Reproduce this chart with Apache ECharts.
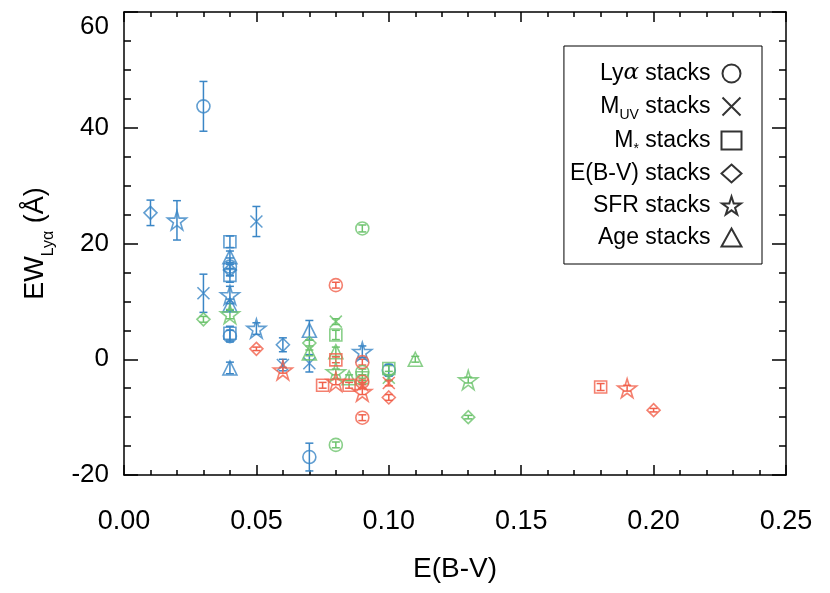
<!DOCTYPE html>
<html>
<head>
<meta charset="utf-8">
<script src="https://cdn.jsdelivr.net/npm/echarts@6/dist/echarts.min.js"></script>
<style>
  html, body { margin: 0; padding: 0; background: #fff; }
  #main { width: 830px; height: 593px; }
</style>
</head>
<body>
<div id="main"></div>
<script>
// [E(B-V), EW, error]
var lyaBlue = [[0.03, 43.7, 4.3], [0.04, 16.0, 1.5], [0.04, 4.0, 1.0], [0.07, -16.9, 2.4], [0.10, -1.9, 1.0]];
var lyaGreen = [[0.09, 22.6, 0.6], [0.08, -14.8, 0.5], [0.09, -2.2, 0.5]];
var lyaRed = [[0.08, 12.8, 0.5], [0.09, -0.5, 0.5], [0.09, -10.1, 0.5], [0.09, -3.9, 0.5]];

var muvBlue = [[0.05, 23.8, 2.6], [0.03, 11.4, 3.3], [0.07, -0.7, 1.5], [0.06, -1.0, 1.0]];
var muvGreen = [[0.08, 6.5, 0.5], [0.10, -3.2, 0.5]];
var muvRed = [[0.09, -4.5, 0.5], [0.10, -4.1, 0.5]];

var mstarBlue = [[0.04, 20.3, 1.0], [0.04, 14.5, 1.2], [0.04, 4.5, 1.2]];
var mstarGreen = [[0.08, 4.2, 0.8], [0.09, -3.2, 0.5], [0.10, -1.6, 0.5]];
var mstarRed = [[0.075, -4.5, 0.5], [0.085, -4.5, 0.5], [0.08, -0.1, 0.5], [0.18, -4.8, 0.6]];

var ebvBlue = [[0.01, 25.3, 2.2], [0.04, 15.4, 1.0], [0.06, 2.5, 1.2]];
var ebvGreen = [[0.03, 6.9, 0.5], [0.07, 2.8, 0.5], [0.13, -10.0, 0.3]];
var ebvRed = [[0.05, 1.8, 0.3], [0.10, -6.6, 0.5], [0.20, -8.8, 0.3]];

var sfrBlue = [[0.02, 24.0, 3.4], [0.04, 11.1, 1.5], [0.05, 5.3, 1.0], [0.09, 1.3, 1.0]];
var sfrGreen = [[0.04, 7.8, 0.8], [0.08, -2.2, 0.5], [0.13, -3.6, 0.5]];
var sfrRed = [[0.06, -1.9, 0.5], [0.08, -3.9, 0.5], [0.09, -5.6, 0.5], [0.19, -5.0, 0.5]];

var ageBlue = [[0.04, 17.7, 1.0], [0.04, 9.4, 1.0], [0.04, -1.5, 1.0], [0.07, 5.0, 1.7]];
var ageGreen = [[0.07, 1.1, 0.5], [0.08, 1.3, 0.8], [0.085, -3.2, 0.5], [0.11, 0.0, 0.5]];

var xTicks = [0, 0.05, 0.10, 0.15, 0.20, 0.25];
var yTicks = [-20, 0, 20, 40, 60];

var BLUE = "#3a86c6";
var GREEN = "#6cc36c";
var RED = "#f1604b";

var STAR = "path://M50,0L61,35L98,35L68,57L79,91L50,70L21,91L32,57L2,35L39,35Z";
var CROSS = "path://M0,0L10,10M10,0L0,10";

var kinds = [
  { key: "lya", symbol: "circle", size: 13 },
  { key: "muv", symbol: CROSS, size: 12 },
  { key: "mstar", symbol: "rect", size: 12 },
  { key: "ebv", symbol: "diamond", size: 13 },
  { key: "sfr", symbol: STAR, size: 19 },
  { key: "age", symbol: "triangle", size: 14 }
];

var groups = [
  { color: BLUE, sets: [lyaBlue, muvBlue, mstarBlue, ebvBlue, sfrBlue, ageBlue] },
  { color: GREEN, sets: [lyaGreen, muvGreen, mstarGreen, ebvGreen, sfrGreen, ageGreen] },
  { color: RED, sets: [lyaRed, muvRed, mstarRed, ebvRed, sfrRed, []] }
];

var series = [];

// error bars + markers, blue first, red on top
groups.forEach(function (g) {
  g.sets.forEach(function (d, i) {
    if (!d.length) return;
    series.push({
      type: "custom",
      silent: true,
      data: d,
      renderItem: function (params, api) {
        var x = api.value(0), y = api.value(1), e = api.value(2);
        var lo = api.coord([x, y - e]);
        var hi = api.coord([x, y + e]);
        var w = 4;
        var st = { stroke: g.color, lineWidth: 1.5 };
        return {
          type: "group",
          children: [
            { type: "line", shape: { x1: lo[0], y1: lo[1], x2: hi[0], y2: hi[1] }, style: st },
            { type: "line", shape: { x1: lo[0] - w, y1: lo[1], x2: lo[0] + w, y2: lo[1] }, style: st },
            { type: "line", shape: { x1: hi[0] - w, y1: hi[1], x2: hi[0] + w, y2: hi[1] }, style: st }
          ]
        };
      }
    });
    series.push({
      type: "scatter",
      silent: true,
      symbol: kinds[i].symbol,
      symbolSize: kinds[i].size,
      data: d.map(function (p) { return [p[0], p[1]]; }),
      itemStyle: { color: "none", borderColor: g.color, borderWidth: 1.6 }
    });
  });
});

// legend-only series (black symbols)
kinds.forEach(function (k) {
  series.push({
    name: k.key,
    type: "scatter",
    symbol: k.symbol,
    symbolSize: k.size,
    data: [],
    itemStyle: { color: "none", borderColor: "#000", borderWidth: 1.2 }
  });
});

var legendText = {
  lya: "{n|Ly}{a|α}{e| stacks}",
  muv: "{n|M}{s|UV}{e| stacks}",
  mstar: "{n|M}{s|*}{e| stacks}",
  ebv: "{e|E(B-V) stacks}",
  sfr: "{e|SFR stacks}",
  age: "{e|Age stacks}"
};

var FONT = "Liberation Sans, Arial, Helvetica, sans-serif";

var tickStyle = { color: "#000", width: 1.5 };

var chart = echarts.init(document.getElementById("main"));
chart.setOption({
  animation: false,
  backgroundColor: "#fff",
  grid: { left: 124, right: 44, top: 12, bottom: 118 },
  legend: {
    orient: "vertical",
    right: 68,
    top: 46,
    align: "right",
    padding: [13, 18, 12, 6],
    itemGap: 3,
    itemWidth: 20,
    itemHeight: 18,
    borderColor: "#000",
    borderWidth: 1,
    borderRadius: 0,
    selectedMode: false,
    data: kinds.map(function (k) { return k.key; }),
    formatter: function (name) { return legendText[name]; },
    textStyle: {
      fontFamily: FONT,
      color: "#000",
      rich: {
        n: { fontSize: 23, fontFamily: FONT, color: "#000", lineHeight: 22, padding: [3, 0, 3, 0] },
        e: { fontSize: 23, fontFamily: FONT, color: "#000", lineHeight: 22, padding: [3, 6, 3, 0] },
        a: { fontSize: 23, fontFamily: "DejaVu Serif", fontStyle: "italic", color: "#000", lineHeight: 22, padding: [3, 0, 3, 0] },
        s: { fontSize: 14, fontFamily: FONT, color: "#000", lineHeight: 11, padding: [17, 0, 0, 0] }
      }
    }
  },
  xAxis: [
    {
      type: "value",
      min: xTicks[0],
      max: xTicks[xTicks.length - 1],
      interval: 0.05,
      name: "E(B-V)",
      nameLocation: "middle",
      nameGap: 80,
      nameTextStyle: { fontFamily: FONT, fontSize: 28, color: "#000" },
      axisLine: { show: true, onZero: false, lineStyle: { color: "#000", width: 1.5 } },
      axisTick: { show: true, inside: true, length: 10, lineStyle: tickStyle },
      minorTick: { show: true, splitNumber: 5, length: 5, lineStyle: tickStyle },
      axisLabel: {
        fontFamily: FONT, fontSize: 27, color: "#000", margin: 33,
        formatter: function (v) { return v.toFixed(2); }
      },
      splitLine: { show: false }
    },
    {
      type: "value",
      position: "top",
      min: xTicks[0],
      max: xTicks[xTicks.length - 1],
      interval: 0.05,
      axisLine: { show: true, onZero: false, lineStyle: { color: "#000", width: 1.5 } },
      axisTick: { show: true, inside: true, length: 10, lineStyle: tickStyle },
      minorTick: { show: true, splitNumber: 5, length: 5, lineStyle: tickStyle },
      axisLabel: { show: false },
      splitLine: { show: false }
    }
  ],
  yAxis: [
    {
      type: "value",
      min: yTicks[0],
      max: yTicks[yTicks.length - 1],
      interval: 20,
      name: "{n|EW}{s|Lyα}{n| (Å)}",
      nameLocation: "middle",
      nameRotate: 90,
      nameGap: 70,
      nameTextStyle: {
        color: "#000",
        rich: {
          n: { fontFamily: FONT, fontSize: 27, color: "#000", lineHeight: 28, padding: [0, 0, 8, 0] },
          s: { fontFamily: FONT, fontSize: 16, color: "#000", lineHeight: 18, padding: [18, 0, 0, 0] }
        }
      },
      axisLine: { show: true, onZero: false, lineStyle: { color: "#000", width: 1.5 } },
      axisTick: { show: true, inside: true, length: 14, lineStyle: tickStyle },
      minorTick: { show: true, splitNumber: 4, length: 7, lineStyle: tickStyle },
      axisLabel: {
        fontFamily: FONT, fontSize: 26, color: "#000", margin: 15,
        formatter: function (v) { return v === 60 ? "{t|60}" : String(v); },
        rich: { t: { fontFamily: FONT, fontSize: 26, color: "#000", padding: [30, 0, 0, 0] } }
      },
      splitLine: { show: false }
    },
    {
      type: "value",
      position: "right",
      min: yTicks[0],
      max: yTicks[yTicks.length - 1],
      interval: 20,
      axisLine: { show: true, onZero: false, lineStyle: { color: "#000", width: 1.5 } },
      axisTick: { show: true, inside: true, length: 14, lineStyle: tickStyle },
      minorTick: { show: true, splitNumber: 4, length: 7, lineStyle: tickStyle },
      axisLabel: { show: false },
      splitLine: { show: false }
    }
  ],
  series: series
});
</script>
</body>
</html>
